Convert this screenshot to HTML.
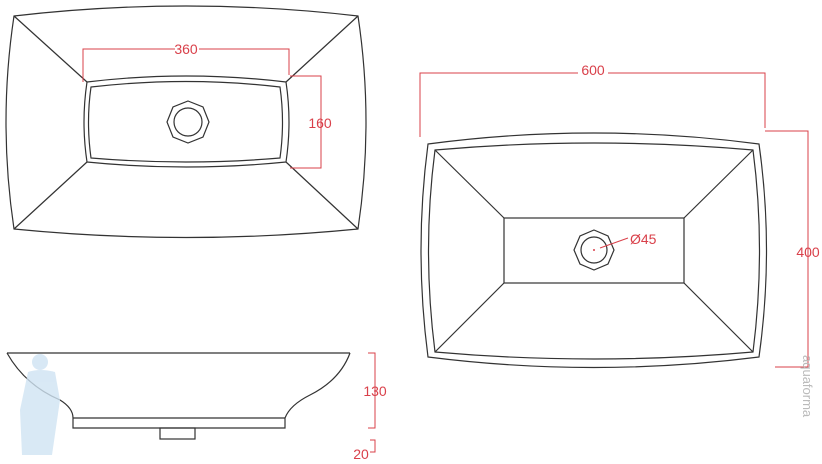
<!DOCTYPE html>
<html><head><meta charset="utf-8"><style>
html,body{margin:0;padding:0;background:#fff;width:822px;height:464px;overflow:hidden}
svg{display:block}
text{font-family:"Liberation Sans",sans-serif;fill:#d9404a;font-size:14px}
</style></head><body>
<svg width="822" height="464" viewBox="0 0 822 464" xmlns="http://www.w3.org/2000/svg">
<g fill="none" stroke="#333" stroke-width="1.2">
<!-- top-left view -->
<path d="M14,16 Q186,-4 358,16 Q374,122 358,229 Q186,246 14,229 Q-2,122 14,16 Z"/>
<line x1="14" y1="16" x2="87" y2="82"/><line x1="358" y1="16" x2="286" y2="82"/>
<line x1="14" y1="229" x2="87" y2="162"/><line x1="358" y1="229" x2="286" y2="162"/>
<path d="M87,82 Q186,70 286,82 Q292,122 286,162 Q186,172 87,162 Q81,122 87,82 Z"/>
<path d="M91,87 Q186,76 280,87 Q285,122 280,158 Q186,166 91,158 Q86,122 91,87 Z"/>
<polygon points="188,101 203,107 209,122 203,137 188,143 173,137 167,122 173,107"/>
<circle cx="188" cy="122" r="14"/>
<!-- right view -->
<path d="M428,144 Q594,122 759,144 Q774,250 759,357 Q594,378 428,357 Q414,250 428,144 Z"/>
<path d="M435,150 Q594,136 753,150 Q766,250 753,352 Q594,366 435,352 Q422,250 435,150 Z"/>
<rect x="504" y="218" width="180" height="65"/>
<line x1="435" y1="150" x2="504" y2="218"/><line x1="753" y1="150" x2="684" y2="218"/>
<line x1="435" y1="352" x2="504" y2="283"/><line x1="753" y1="352" x2="684" y2="283"/>
<polygon points="594,230 608,236 614,250 608,264 594,270 580,264 574,250 580,236"/>
<circle cx="594" cy="250" r="13"/>
<!-- side view -->
<line x1="7" y1="353" x2="350" y2="353"/>
<path d="M7,353 Q25,385 60,400 Q73,408 73,418 L73,428 L285,428 L285,418 Q290,405 310,395 Q340,380 350,353"/>
<line x1="73" y1="418" x2="285" y2="418"/>
<rect x="160" y="428" width="35" height="11"/>
</g>
<g fill="none" stroke="#d9404a" stroke-width="1">
<polyline points="83,82 83,49 289,49 289,75"/>
<polyline points="290,76 321,76 321,168 290,168"/>
<polyline points="420,137 420,73 765,73 765,128"/>
<polyline points="765,131 808,131 808,367 775,367"/>
<line x1="600" y1="248" x2="628" y2="238"/>
<polyline points="368,353 375,353 375,428 368,428"/>
<polyline points="370,440 375,440 375,452 370,452"/>
</g>
<circle cx="594" cy="250" r="1" fill="#d9404a"/>
<g>
<rect x="175" y="42" width="24" height="14" fill="#fff"/>
<text x="186" y="54" text-anchor="middle">360</text>
<text x="320" y="128" text-anchor="middle">160</text>
<rect x="578" y="62" width="30" height="14" fill="#fff"/>
<text x="593" y="75" text-anchor="middle">600</text>
<text x="630" y="244">Ø45</text>
<text x="808" y="257" text-anchor="middle">400</text>
<text x="375" y="396" text-anchor="middle">130</text>
<text x="361" y="459" text-anchor="middle">20</text>
</g>
<g fill="#cfe3f3" opacity="0.8">
<circle cx="40" cy="362" r="8"/>
<path d="M28,372 Q40,368 55,372 L60,400 L52,455 L22,455 L20,410 Z"/>
</g>
<text x="0" y="0" transform="translate(803,355) rotate(90)" style="fill:#bbb;font-size:13px">aquaforma</text>
</svg>
</body></html>
